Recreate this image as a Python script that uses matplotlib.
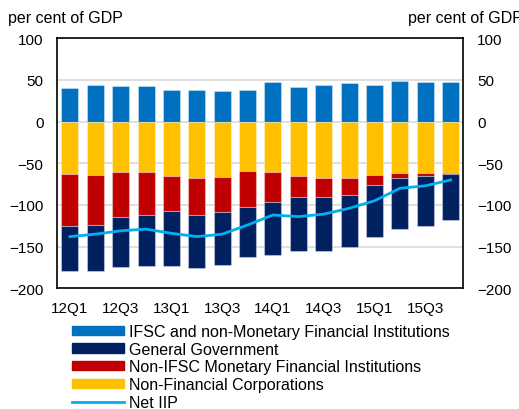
import numpy as np
import matplotlib
matplotlib.use("Agg")
import matplotlib.pyplot as plt
from matplotlib.patches import Patch
from matplotlib.lines import Line2D

plt.rcParams['font.family'] = ['Liberation Sans', 'DejaVu Sans']

quarters = ['12Q1', '12Q2', '12Q3', '12Q4', '13Q1', '13Q2', '13Q3', '13Q4',
            '14Q1', '14Q2', '14Q3', '14Q4', '15Q1', '15Q2', '15Q3', '15Q4']
ifsc = [40, 44, 43, 43, 38, 38, 37, 38, 48, 41, 44, 46, 44, 49, 48, 48]
nfc = [-63, -64, -61, -60, -65, -68, -66, -59, -60, -65, -68, -68, -64, -62, -62, -62]
mfi = [-62, -60, -53, -52, -42, -44, -43, -43, -37, -25, -22, -20, -12, -6, -3, -0.5]
gov = [-54, -55, -60, -61, -66, -64, -63, -60, -63, -65, -65, -63, -63, -61, -60, -56]
net_iip = [-138, -135, -131, -129, -134, -138, -135, -124, -112, -114, -111, -104,
           -95, -80, -77, -70]

c_ifsc = '#0070C0'
c_gov = '#002060'
c_mfi = '#C00000'
c_nfc = '#FFC000'
c_net = '#00B0F0'

fs = 11
fig = plt.figure(figsize=(5.19, 4.10), dpi=100)
ax = fig.add_axes([0.1104, 0.2944, 0.7823, 0.6097])

x = np.arange(len(quarters))
w = 0.67
edge = (1, 1, 1, 0.35)
nfc_a = np.array(nfc)
mfi_a = np.array(mfi)
ax.bar(x, ifsc, w, color=c_ifsc, edgecolor=edge, lw=0.8, zorder=2)
ax.bar(x, nfc, w, color=c_nfc, edgecolor=edge, lw=0.8, zorder=2)
ax.bar(x, mfi, w, bottom=nfc_a, color=c_mfi, edgecolor=edge, lw=0.8, zorder=2)
ax.bar(x, gov, w, bottom=nfc_a + mfi_a, color=c_gov, edgecolor=edge, lw=0.8, zorder=2)
ax.plot(x, net_iip, color=c_net, lw=2, zorder=3)

ax.set_xlim(-0.5, len(quarters) - 0.5)
ax.set_ylim(-200, 100)
ax.set_yticks(np.arange(-200, 101, 50))
ax.yaxis.grid(True, color='#d9d9d9', lw=1.2, zorder=0)
ax.set_axisbelow(True)
ax.set_xticks(x[::2])
ax.set_xticklabels(quarters[::2])
ax.tick_params(axis='y', length=0, pad=10, labelsize=fs, right=True, labelright=True)
ax.tick_params(axis='x', length=0, pad=9, labelsize=fs)
for s in ax.spines.values():
    s.set_color('black')
    s.set_linewidth(1.2)

# the right-hand unit label runs off the edge in the original too
fig.text(8 / 519, 1 - 19 / 410, 'per cent of GDP', fontsize=11.5, ha='left', va='center')
fig.text(408 / 519, 1 - 19 / 410, 'per cent of GDP', fontsize=11.5, ha='left', va='center')

handles = [Patch(color=c_ifsc), Patch(color=c_gov), Patch(color=c_mfi), Patch(color=c_nfc),
           Line2D([], [], color=c_net, lw=2)]
labels = ['IFSC and non-Monetary Financial Institutions', 'General Government',
          'Non-IFSC Monetary Financial Institutions', 'Non-Financial Corporations', 'Net IIP']
fig.legend(handles, labels, loc='upper left', bbox_to_anchor=(72 / 519, 1 - 325 / 410),
           frameon=False, fontsize=11.5, handlelength=3.25, handleheight=0.5,
           handletextpad=0.3, labelspacing=0.17, borderaxespad=0, borderpad=0)

fig.savefig('out.png', dpi=100)
